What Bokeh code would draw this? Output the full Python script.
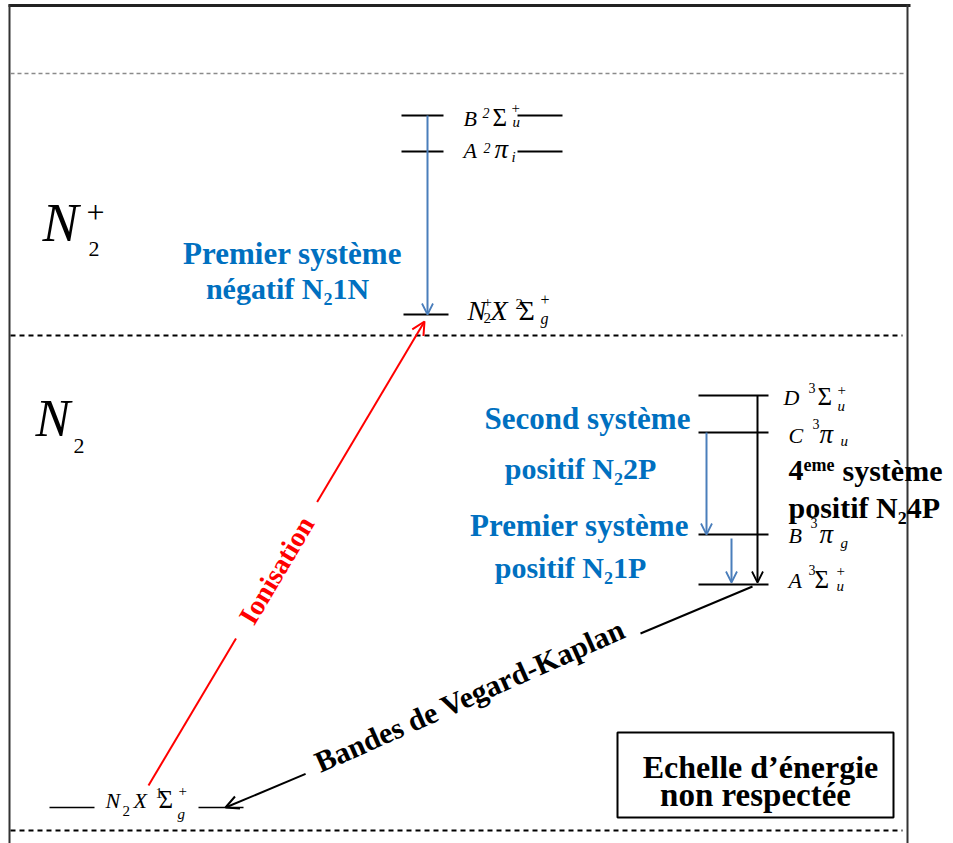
import math
from bokeh.plotting import figure
from bokeh.models import Range1d, Arrow, OpenHead
from bokeh.core.properties import value
from bokeh.embed import file_html
from bokeh.resources import INLINE

# ---------------- data ----------------
# Energy levels (arbitrary units, "échelle d'énergie non respectée")
n2_states = ["X", "A", "B", "C", "D"]            # neutral N2
n2_energy = [36, 259, 309, 411, 448]
n2p_states = ["X", "A", "B"]                     # ion N2+
n2p_energy = [529, 692, 728]
ionisation_limit = 508
upper_limit = 770
lower_limit = 13

# transitions : (upper state, lower state)
trans_names = ["N1N", "N2P", "N1P", "N4P", "Vegard-Kaplan", "Ionisation"]
trans_upper = ["N2+ B", "N2 C", "N2 B", "N2 D", "N2 A", "N2+ X"]
trans_lower = ["N2+ X", "N2 B", "N2 A", "N2 A", "N2 X", "N2 X"]

E = {}
for s, e in zip(n2_states, n2_energy):
    E["N2 " + s] = e
for s, e in zip(n2p_states, n2p_energy):
    E["N2+ " + s] = e
T = {n: (u, l) for n, u, l in zip(trans_names, trans_upper, trans_lower)}

# ---------------- figure ----------------
W, H = 953, 843
p = figure(width=W, height=H, x_range=Range1d(0, W), y_range=Range1d(0, H),
           output_backend="svg", toolbar_location=None, min_border=0,
           x_axis_location=None, y_axis_location=None)
p.grid.visible = False
p.outline_line_color = None
p.background_fill_color = "white"

SERIF = value("Liberation Serif")
BLUE_TXT = "#0070C0"
BLUE_ARR = "#4A7EBB"
RED = "#FF0000"
BASE_FIX = 0.32   # alphabetic-baseline correction (fraction of font size)


def txt(x, y, s, size, style="normal", color="black", align="left",
        baseline="alphabetic", angle=0):
    if baseline == "alphabetic":
        y = y + BASE_FIX * size
    p.text(x=[x], y=[y], text=[s], text_font=SERIF, text_font_size=f"{size}px",
           text_font_style=style, text_color=color, text_align=align,
           text_baseline=baseline, angle=angle, angle_units="deg")


def term(x, yb, pieces):
    for s, dx, dy, size, style in pieces:
        txt(x + dx, yb + dy, s, size, style)


# frame
p.line(x=[8, 910], y=[838, 838], line_color="#222", line_width=3)
p.line(x=[9, 9], y=[839, 0], line_color="#333", line_width=2)
p.line(x=[907, 907], y=[839, 0], line_color="#333", line_width=2)

# reference dashed lines
p.line(x=[10, 905], y=[upper_limit] * 2, line_color="#8a8a8a", line_width=1.5, line_dash="4 3")
p.line(x=[10, 902], y=[ionisation_limit] * 2, line_color="black", line_width=2, line_dash="5 4")
p.line(x=[10, 902], y=[lower_limit] * 2, line_color="black", line_width=2, line_dash="5 4")

# level lines
for s in n2p_states:
    x0, x1 = (403, 448) if s == "X" else (401, 443)
    p.line(x=[x0, x1], y=[E["N2+ " + s]] * 2, line_color="black", line_width=2)
for s in ["B", "A"]:
    p.line(x=[517, 562], y=[E["N2+ " + s]] * 2, line_color="black", line_width=2)
for s in ["A", "B", "C", "D"]:
    p.line(x=[698, 768], y=[E["N2 " + s]] * 2, line_color="black", line_width=2)
p.line(x=[49, 94], y=[E["N2 X"]] * 2, line_color="black", line_width=1.5)
p.line(x=[198, 243], y=[E["N2 X"]] * 2, line_color="black", line_width=1.5)

# level labels
term(463, E["N2+ B"] - 10, [("B", 0, 0, 22, "italic"), ("2", 19, 8, 14, "italic"),
                            ("Σ", 29, 0, 25, "normal"), ("u", 49, -1, 15, "italic"),
                            ("+", 48, 13, 15, "normal")])
term(463, E["N2+ A"] - 6, [("A", 0, 0, 22, "italic"), ("2", 20, 5, 14, "italic"),
                           ("π", 31, 0, 27, "italic"), ("i", 48, -4, 15, "italic")])
term(467, E["N2+ X"] - 5, [("N", 0, 0, 28, "italic"), ("2", 16, -3, 15, "normal"),
                           ("+", 16, 13, 15, "normal"), ("X", 23, 0, 28, "italic"),
                           ("2", 48, 11, 15, "normal"), ("Σ", 51, 0, 28, "normal"),
                           ("g", 73, -4, 16, "italic"), ("+", 73, 15, 16, "normal")])
term(783, E["N2 D"] - 9, [("D", 0, 0, 22, "italic"), ("3", 25, 12, 14, "normal"),
                          ("Σ", 34, 0, 25, "normal"), ("u", 54, -6, 15, "italic"),
                          ("+", 54, 10, 15, "normal")])
term(788, E["N2 C"] - 10, [("C", 0, 0, 22, "italic"), ("3", 24, 14, 14, "normal"),
                           ("π", 31, 0, 27, "italic"), ("u", 52, -3, 15, "italic")])
term(788, E["N2 B"] - 8, [("B", 0, 0, 22, "italic"), ("3", 22, 15, 14, "normal"),
                          ("π", 31, 0, 27, "italic"), ("g", 52, -5, 15, "italic")])
term(788, E["N2 A"] - 3, [("A", 0, 0, 22, "italic"), ("3", 20, 13, 14, "normal"),
                          ("Σ", 26, 0, 25, "normal"), ("u", 48, -3, 15, "italic"),
                          ("+", 48, 12, 15, "normal")])
term(105, E["N2 X"], [("N", 0, 0, 22, "italic"), ("2", 17, -8, 15, "normal"),
                      ("X", 28, 0, 22, "italic"), ("1", 50, 10, 14, "normal"),
                      ("Σ", 53, 0, 25, "normal"), ("g", 72, -11, 15, "italic"),
                      ("+", 73, 12, 15, "normal")])

# molecule labels
txt(42, 843 - 240, "N", 54, "italic")
txt(88, 843 - 256, "2", 22)
txt(86, 843 - 222, "+", 32)
txt(35, 843 - 435, "N", 52, "italic")
txt(73, 843 - 453, "2", 22)

# vertical transitions
def vert(name, x, color, top_off=0, bot_off=0):
    u, l = T[name]
    y0, y1 = E[u] - top_off, E[l] + bot_off
    p.add_layout(Arrow(end=OpenHead(size=11, line_color=color, line_width=1.8),
                       x_start=x, y_start=y0, x_end=x, y_end=y1,
                       line_color=color, line_width=2))

vert("N1N", 427, BLUE_ARR, 0, 0)
vert("N2P", 706, BLUE_ARR, 0, 0)
vert("N1P", 731, BLUE_ARR, 4, 2)
vert("N4P", 757, "black", 0, 2)

# oblique transitions with text in a gap
def oblique(name, xs, xe, ys_off, ye_off, gap, color, label, size, lw, shift, dang):
    u, l = T[name]
    if name == "Ionisation":
        x0, y0, x1, y1 = xs, E[l] + ys_off, xe, E[u] + ye_off
    else:
        x0, y0, x1, y1 = xs, E[u] + ys_off, xe, E[l] + ye_off
    pt = lambda t: (x0 + t * (x1 - x0), y0 + t * (y1 - y0))
    a0, a1 = pt(gap[0]), pt(gap[1])
    p.line(x=[x0, a0[0]], y=[y0, a0[1]], line_color=color, line_width=lw)
    p.add_layout(Arrow(end=OpenHead(size=13, line_color=color, line_width=lw),
                       x_start=a1[0], y_start=a1[1], x_end=x1, y_end=y1,
                       line_color=color, line_width=lw))
    c = pt((gap[0] + gap[1]) / 2)
    ang = math.degrees(math.atan2(y1 - y0, x1 - x0))
    if ang > 90:
        ang -= 180
    if ang < -90:
        ang += 180
    r = math.radians(ang)
    cx, cy = c[0] - shift * math.sin(r), c[1] + shift * math.cos(r)
    txt(cx, cy, label, size, "bold", color, "center", "middle", ang + dang)

oblique("Ionisation", 148, 424, 22, -7, (0.317, 0.611), RED, "Ionisation", 28, 2, 0, 0)
oblique("Vegard-Kaplan", 752, 225, -2, 0, (0.2125, 0.848), "black",
        "Bandes de Vegard-Kaplan", 30, 2, 9, 1.2)

# system names
txt(292, 843 - 263, "Premier système", 31, "bold", BLUE_TXT, "center")
txt(287, 843 - 298, "négatif N₂1N", 30, "bold", BLUE_TXT, "center")
txt(587, 843 - 428, "Second système", 31, "bold", BLUE_TXT, "center")
txt(580, 843 - 478, "positif N₂2P", 30, "bold", BLUE_TXT, "center")
txt(579, 843 - 535, "Premier système", 31, "bold", BLUE_TXT, "center")
txt(570, 843 - 577, "positif N₂1P", 30, "bold", BLUE_TXT, "center")
txt(788, 843 - 480, "4", 30, "bold")
txt(803, 843 - 470, "eme", 18, "bold")
txt(842, 843 - 480, "système", 30, "bold")
txt(788, 843 - 517, "positif N₂4P", 30, "bold")

# note box
p.quad(left=[617], right=[893], top=[843 - 732], bottom=[843 - 817],
       fill_color=None, line_color="black", line_width=2)
txt(760, 843 - 777, "Echelle d’énergie", 32, "bold", "black", "center")
txt(755, 843 - 805, "non respectée", 33, "bold", "black", "center")

open("out.html", "w").write(file_html(p, INLINE))
